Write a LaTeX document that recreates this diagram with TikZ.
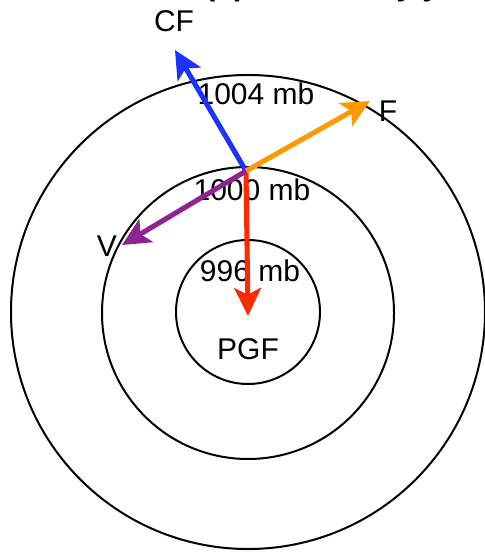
\documentclass[tikz,border=0pt]{standalone}
\usepackage{fontspec}
\setmainfont{Liberation Sans}
\usetikzlibrary{arrows.meta}

\begin{document}
\begin{tikzpicture}[x=0.75pt, y=-0.75pt,
  lbl/.style={font=\fontsize{22.5}{26}\selectfont, inner sep=0pt},
  isobar/.style={draw=black, line width=1.5pt},
  vec/.style={-{Stealth[length=21pt, width=20pt, inset=5pt]}, line width=3.8pt}]
  \useasboundingbox (0,0) rectangle (484,555);
  % the title sits mostly above the page, only its lowest part shows
  \node[anchor=base west, inner sep=0pt, font=\fontsize{23.5}{27}\selectfont\bfseries] (title) at (20,-4) {Surface low (L) as seen by you a};
  % three isobars round the low
  \draw[isobar] (248,312) circle[radius=237];
  \draw[isobar] (248,313) circle[radius=146];
  \draw[isobar] (248,312) circle[radius=72];
  \node[lbl] (p1004) at (256,94) {1004 mb};
  \node[lbl] (p1000) at (252,190) {1000 mb};
  \node[lbl] (p996) at (250,271) {996 mb};
  \node[lbl] (pgf) at (248,349) {PGF};
  \node[lbl] (cf) at (174,21) {CF};
  \node[lbl] (f) at (388,111) {F};
  \node[lbl] (v) at (107,246) {V};
  \coordinate (o) at (246,171);
  \coordinate (cftip) at (175,50);
  \coordinate (ftip) at (370,101);
  \coordinate (vtip) at (122,245);
  \coordinate (pgftip) at (248,316);
  \draw[vec, draw={rgb,255:red,255;green,40;blue,0}] (o) -- (pgftip);
  \draw[vec, draw={rgb,255:red,26;green,51;blue,255}] (o) -- (cftip);
  \draw[vec, draw={rgb,255:red,255;green,153;blue,0}] (o) -- (ftip);
  \draw[vec, draw={rgb,255:red,142;green,35;blue,145}] (o) -- (vtip);
\end{tikzpicture}
\end{document}
